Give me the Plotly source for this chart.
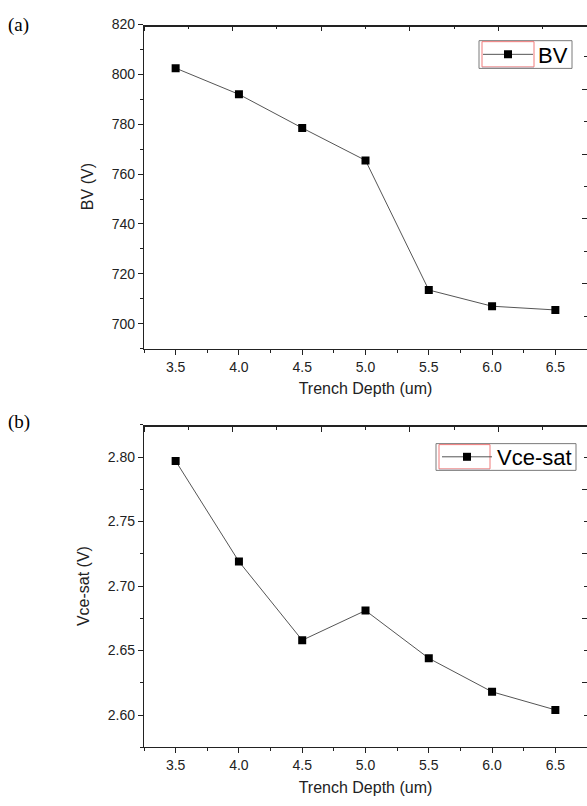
import plotly.graph_objects as go

# ---- data ----
depth = [3.5, 4.0, 4.5, 5.0, 5.5, 6.0, 6.5]
bv = [802.5, 792.0, 778.5, 765.5, 713.5, 707.0, 705.5]
vce_sat = [2.797, 2.719, 2.658, 2.681, 2.644, 2.618, 2.604]

x_ticks = [3.5, 4.0, 4.5, 5.0, 5.5, 6.0, 6.5]
x_ticklabels = ["3.5", "4.0", "4.5", "5.0", "5.5", "6.0", "6.5"]

W, H = 587, 806
FONT = "Liberation Sans, Arial, sans-serif"
AX = "#222222"

def px_y(y):
    return 1 - y / H

def px_x(x):
    return x / W

x_dom = [144 / W, 1.0]
ya_dom = [px_y(344), px_y(16.7)]
yb_dom = [px_y(746.7), px_y(421)]

fig = go.Figure()
line_style = dict(color="#555555", width=1)
marker_style = dict(symbol="square", size=8, color="black", line=dict(width=0))

fig.add_trace(go.Scatter(x=depth, y=bv, mode="lines+markers", name="BV",
                         line=line_style, marker=marker_style,
                         xaxis="x", yaxis="y", legend="legend"))
fig.add_trace(go.Scatter(x=depth, y=vce_sat, mode="lines+markers", name="Vce-sat",
                         line=line_style, marker=marker_style,
                         xaxis="x2", yaxis="y2", legend="legend2"))

# placeholder traces (no drawn marks) so the frame axes (top / right) are created
for xa, ya in [("x5", "y5"), ("x", "y3"), ("x6", "y6"), ("x2", "y4")]:
    fig.add_trace(go.Scatter(x=[None], y=[None], xaxis=xa, yaxis=ya, mode="markers",
                             marker=dict(opacity=0), showlegend=False, hoverinfo="skip"))

tickfont = dict(family=FONT, size=14, color=AX)
titlefont = dict(family=FONT, size=16, color=AX)

def bottom_x(anchor):
    return dict(domain=x_dom, anchor=anchor, range=[3.25, 6.75],
                tickvals=x_ticks, ticktext=x_ticklabels,
                ticks="outside", ticklen=5, tickwidth=1.2, tickcolor=AX,
                minor=dict(dtick=0.25, tick0=3.25, ticks="outside", ticklen=3,
                           tickwidth=1.2, tickcolor=AX),
                showline=True, linecolor=AX, linewidth=1.3,
                showgrid=False, zeroline=False, tickfont=tickfont,
                title=dict(text="Trench Depth (um)", font=titlefont, standoff=9))

# top frame: thin strip subplot whose bottom axis sits on the frame top,
# ticks pointing down into the plot
def top_strip_x(anchor):
    return dict(domain=x_dom, anchor=anchor, side="bottom", range=[0, 10],
                dtick=2, tick0=0, ticks="outside", ticklen=5, tickwidth=1.2, tickcolor=AX,
                minor=dict(dtick=1, tick0=0, ticks="outside", ticklen=3,
                           tickwidth=1.2, tickcolor=AX),
                showline=True, linecolor=AX, linewidth=1.5,
                showticklabels=False, showgrid=False, zeroline=False, fixedrange=True)

def top_strip_y(top):
    return dict(domain=[top, min(top + 0.001, 1.0)], range=[0, 1], visible=False,
                showgrid=False, zeroline=False, fixedrange=True)

def right_y(overlay, anchor):
    return dict(overlaying=overlay, anchor=anchor, side="right", range=[0, 10],
                dtick=2, tick0=0, ticks="inside", ticklen=5, tickwidth=1.2, tickcolor=AX,
                minor=dict(dtick=1, tick0=0, ticks="inside", ticklen=3,
                           tickwidth=1.2, tickcolor=AX),
                showline=False, showticklabels=False, showgrid=False, zeroline=False)

legend_common = dict(xanchor="left", yanchor="middle",
                     borderwidth=0, bgcolor="rgba(0,0,0,0)",
                     font=dict(family=FONT, size=22, color="black"),
                     itemwidth=50, tracegroupgap=0)

# legend frames (Origin style boxes with the selection-highlight artefact)
def legend_frame(x0, y0, x1, y1, sx1):
    return [
        dict(type="rect", xref="paper", yref="paper",
             x0=px_x(x0), x1=px_x(x1), y0=px_y(y1), y1=px_y(y0),
             line=dict(color="#7a7a7a", width=1), fillcolor="white", layer="above"),
        dict(type="line", xref="paper", yref="paper",
             x0=px_x(x0 + 3), x1=px_x(sx1), y0=px_y(y1 - 1), y1=px_y(y1 - 1),
             line=dict(color="#a8e4f0", width=1), layer="above"),
        dict(type="rect", xref="paper", yref="paper",
             x0=px_x(x0 + 3), x1=px_x(sx1), y0=px_y(y1 - 1.5), y1=px_y(y0 + 1),
             line=dict(color="#f07a7a", width=1), fillcolor="rgba(0,0,0,0)", layer="above"),
    ]

shapes = legend_frame(479, 33, 572, 61, 534) + legend_frame(436, 440, 576, 467, 490)

fig.update_layout(
    width=W, height=H,
    margin=dict(l=0, r=0, t=0, b=0),
    paper_bgcolor="white", plot_bgcolor="rgba(0,0,0,0)",
    font=dict(family=FONT, color=AX),
    xaxis=bottom_x("y"),
    xaxis2=bottom_x("y2"),
    xaxis5=top_strip_x("y5"),
    yaxis5=top_strip_y(ya_dom[1]),
    xaxis6=top_strip_x("y6"),
    yaxis6=top_strip_y(yb_dom[1]),
    yaxis=dict(domain=ya_dom, anchor="x", range=[690, 820], dtick=20, tick0=700,
               ticks="outside", ticklen=5, tickwidth=1.2, tickcolor=AX,
               minor=dict(dtick=10, tick0=700, ticks="outside", ticklen=3,
                          tickwidth=1.2, tickcolor=AX),
               showline=True, linecolor=AX, linewidth=1.3,
               showgrid=False, zeroline=False, tickfont=tickfont,
               title=dict(text="BV (V)", font=titlefont, standoff=14)),
    yaxis2=dict(domain=yb_dom, anchor="x2", range=[2.575, 2.825], dtick=0.05, tick0=2.6,
                tickformat=".2f",
                ticks="outside", ticklen=5, tickwidth=1.2, tickcolor=AX,
                minor=dict(dtick=0.025, tick0=2.6, ticks="outside", ticklen=3,
                           tickwidth=1.2, tickcolor=AX),
                showline=True, linecolor=AX, linewidth=1.3,
                showgrid=False, zeroline=False, tickfont=tickfont,
                title=dict(text="Vce-sat (V)", font=titlefont, standoff=14)),
    yaxis3=dict(right_y("y", "x"), domain=ya_dom),
    yaxis4=dict(right_y("y2", "x2"), domain=yb_dom),
    legend=dict(legend_common, x=px_x(478), y=px_y(47)),
    legend2=dict(legend_common, x=px_x(437), y=px_y(453.5)),
    shapes=shapes,
    annotations=[
        dict(text="(a)", x=6 / W, y=px_y(17), xref="paper", yref="paper",
             xanchor="left", yanchor="middle", showarrow=False,
             font=dict(family="Liberation Serif, Times New Roman, serif", size=19, color="black")),
        dict(text="(b)", x=6 / W, y=px_y(418), xref="paper", yref="paper",
             xanchor="left", yanchor="middle", showarrow=False,
             font=dict(family="Liberation Serif, Times New Roman, serif", size=19, color="black")),
    ],
    showlegend=True,
)

fig.write_html("out.html",
               config={"displayModeBar": False},
               post_script="document.body.style.margin='0';"
                           "document.body.style.overflow='hidden';")
